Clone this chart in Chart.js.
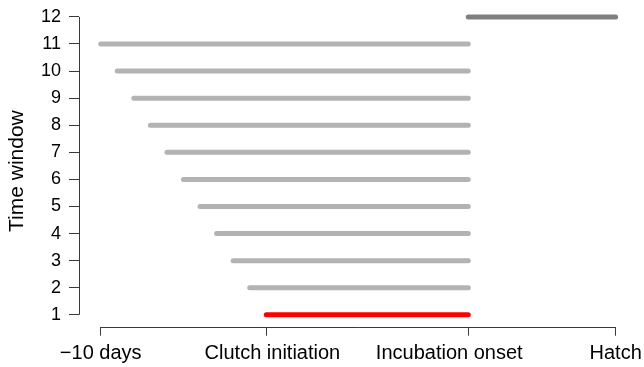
<!DOCTYPE html>
<html>
<head>
<meta charset="utf-8">
<script src="https://cdn.jsdelivr.net/npm/chart.js@4"></script>
<style>
html,body{margin:0;padding:0;background:#fff;}
#wrap{width:644px;height:367px;}
</style>
</head>
<body>
<div id="wrap"><canvas id="c" width="644" height="367"></canvas></div>
<script>
// ---- data ----
const windows = [1, 2, 3, 4, 5, 6, 7, 8, 9, 10, 11, 12];
const starts  = [0, -1, -2, -3, -4, -5, -6, -7, -8, -9, -10, 12.2];
const ends    = [12.2, 12.2, 12.2, 12.2, 12.2, 12.2, 12.2, 12.2, 12.2, 12.2, 12.2, 21.1];
const colors  = ['#ff0000', '#b3b3b3', '#b3b3b3', '#b3b3b3', '#b3b3b3', '#b3b3b3',
                 '#b3b3b3', '#b3b3b3', '#b3b3b3', '#b3b3b3', '#b3b3b3', '#7f7f7f'];
const xTickValues = [-10, 0, 12.2, 21.1];
const xLabelPositions = [-10, 0.37, 11.05, 21.1];
const xTickLabels = ['\u221210 days', 'Clutch initiation', 'Incubation onset', 'Hatch'];
const yTickValues = [1, 2, 3, 4, 5, 6, 7, 8, 9, 10, 11, 12];
const yTitle = 'Time window';

const FONT = 'Liberation Sans, Arial, sans-serif';
const AXIS_COLOR = '#3a3a3a';
const X_MIN = -11.31, X_MAX = 22.33;

const datasets = windows.map((w, i) => ({
  data: [{x: starts[i], y: w}, {x: ends[i], y: w}],
  showLine: true,
  borderColor: colors[i],
  backgroundColor: colors[i],
  borderWidth: 5,
  borderCapStyle: 'round',
  pointRadius: 0,
  pointHoverRadius: 0,
  clip: false
}));

const axisLines = {
  id: 'axisLines',
  afterDraw(chart) {
    const ctx = chart.ctx;
    const xs = chart.scales.x, ys = chart.scales.y;
    const area = chart.chartArea;
    ctx.save();
    ctx.strokeStyle = AXIS_COLOR;
    ctx.lineWidth = 1;
    ctx.beginPath();
    const yb = Math.round(area.bottom) + 0.5;
    ctx.moveTo(xs.getPixelForValue(xTickValues[0]), yb);
    ctx.lineTo(xs.getPixelForValue(xTickValues[xTickValues.length - 1]), yb);
    const xl = Math.round(area.left) + 0.5;
    ctx.moveTo(xl, ys.getPixelForValue(yTickValues[0]));
    ctx.lineTo(xl, ys.getPixelForValue(yTickValues[yTickValues.length - 1]));
    ctx.stroke();
    ctx.restore();
  }
};

new Chart(document.getElementById('c'), {
  type: 'scatter',
  data: { datasets },
  plugins: [axisLines],
  options: {
    responsive: false,
    animation: false,
    events: [],
    layout: { padding: { top: 5, right: 8, left: 0, bottom: 0 } },
    plugins: { legend: { display: false }, tooltip: { enabled: false } },
    scales: {
      x: {
        type: 'linear',
        position: 'bottom',
        weight: 0,
        min: X_MIN,
        max: X_MAX,
        afterBuildTicks(s) { s.ticks = xTickValues.map(v => ({ value: v })); },
        afterFit(s) { s.height = 9; s.paddingLeft = 0; s.paddingRight = 0; },
        border: { display: false },
        grid: { drawOnChartArea: false, drawTicks: true, tickLength: 9, color: AXIS_COLOR, tickColor: AXIS_COLOR, lineWidth: 1 },
        ticks: { display: false }
      },
      xl: {
        type: 'linear',
        position: 'bottom',
        weight: 1,
        min: X_MIN,
        max: X_MAX,
        afterBuildTicks(s) { s.ticks = xLabelPositions.map(v => ({ value: v })); },
        afterFit(s) { s.height = 31.3; s.paddingLeft = 0; s.paddingRight = 0; },
        border: { display: false },
        grid: { display: false, drawTicks: false },
        ticks: {
          autoSkip: false,
          maxRotation: 0,
          padding: 6,
          color: '#000',
          font: { family: FONT, size: 20 },
          callback(v) { const i = xLabelPositions.indexOf(v); return i >= 0 ? xTickLabels[i] : ''; }
        }
      },
      y: {
        type: 'linear',
        min: 0.56,
        max: 12.44,
        afterBuildTicks(s) { s.ticks = yTickValues.map(v => ({ value: v })); },
        afterFit(s) { s.width = 79; s.paddingTop = 0; s.paddingBottom = 0; },
        border: { display: false },
        grid: { drawOnChartArea: false, drawTicks: true, tickLength: 10, color: AXIS_COLOR, tickColor: AXIS_COLOR, lineWidth: 1 },
        title: { display: true, text: yTitle + '\u2002', color: '#000', font: { family: FONT, size: 21 }, padding: { top: 5, bottom: 0 } },
        ticks: {
          autoSkip: false,
          padding: 8,
          color: '#000',
          font: { family: FONT, size: 18 },
          callback(v) { return String(v); }
        }
      }
    }
  }
});
</script>
</body>
</html>
